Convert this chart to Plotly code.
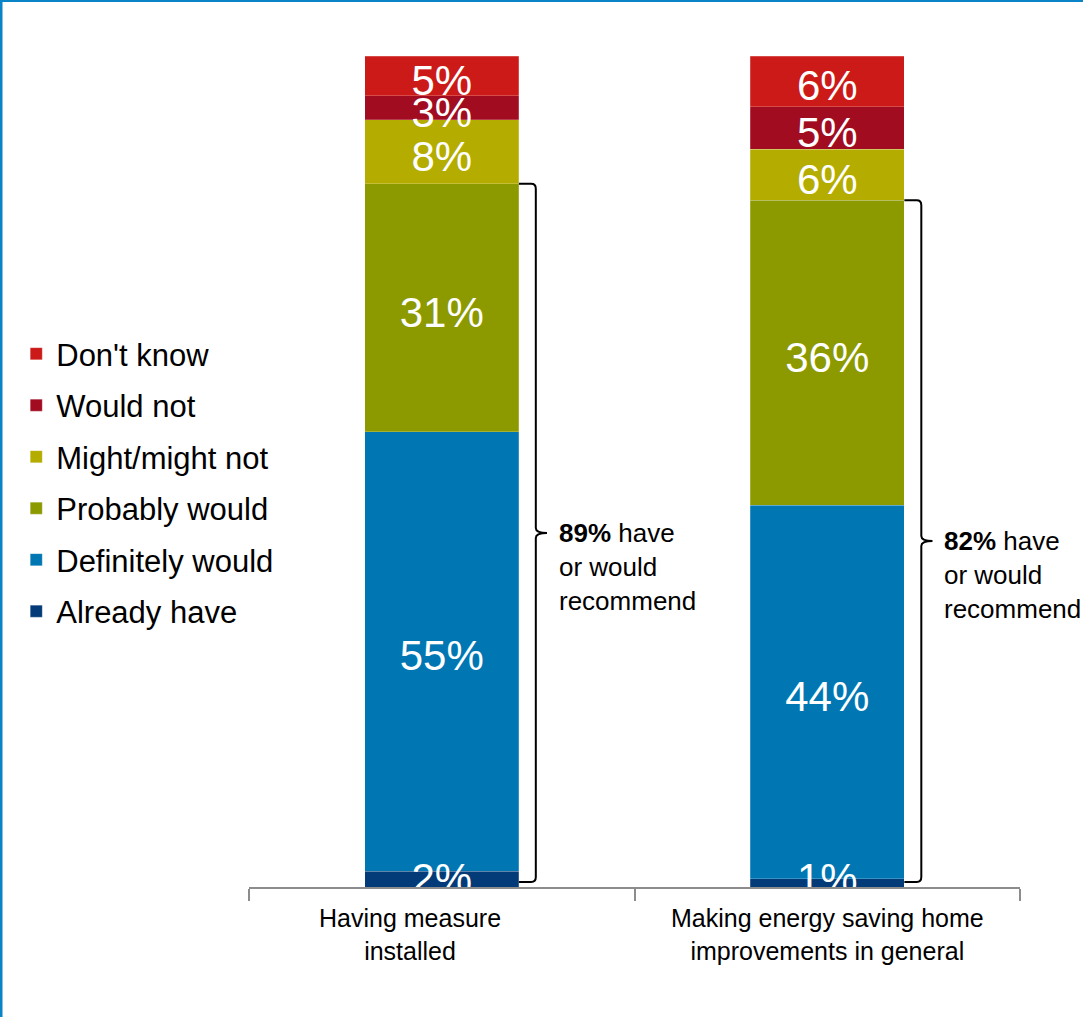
import plotly.graph_objects as go

categories = ["Having measure<br>installed", "Making energy saving home<br>improvements in general"]
series_names = ["Already have", "Definitely would", "Probably would", "Might/might not", "Would not", "Don't know"]
already_have = [2, 1]
definitely_would = [55, 44]
probably_would = [31, 36]
might_might_not = [8, 6]
would_not = [3, 5]
dont_know = [5, 6]
recommend_totals = ["89%", "82%"]

series_values = [already_have, definitely_would, probably_would, might_might_not, would_not, dont_know]
colors = ["#033A78", "#0077B3", "#8C9A00", "#B5AC00", "#A10C20", "#CB1A18"]
FONT = "Liberation Sans, Arial, sans-serif"
LABEL_SIZE = 42
PLOT_PX = 831  # pixel height of the value axis

fig = go.Figure()
n = len(series_names)
for k, (name, vals, col) in enumerate(zip(series_names, series_values, colors)):
    fig.add_trace(go.Bar(
        x=categories, y=vals, name=name, legendgroup=name, legendrank=n - k,
        marker=dict(color=col, line=dict(color="rgba(255,255,255,0.35)", width=0.6)),
        hoverinfo="skip",
    ))

# Normalised label positions (percent of each bar), drawn above all bars
totals = [sum(s[i] for s in series_values) for i in range(len(categories))]
px_to_units = 100 / PLOT_PX
text_offset = 0.2 * LABEL_SIZE * px_to_units   # optical centring of text glyphs
min_center = 0.3 * LABEL_SIZE * px_to_units    # keep labels just above the axis
lab_x, lab_y, lab_t = [], [], []
for i in range(len(categories)):
    cum = 0.0
    for s in series_values:
        v = s[i] / totals[i] * 100
        lab_x.append(categories[i])
        lab_y.append(max(cum + v / 2, min_center) - text_offset)
        lab_t.append(f"{s[i]}%")
        cum += v
fig.add_trace(go.Scatter(
    x=lab_x, y=lab_y, text=lab_t, mode="text", textposition="middle center",
    textfont=dict(color="white", size=LABEL_SIZE, family=FONT),
    showlegend=False, hoverinfo="skip", cliponaxis=True,
))

# Brackets spanning Already have + Definitely + Probably
shapes = []
annotations = []
for i in range(len(categories)):
    top = (already_have[i] + definitely_would[i] + probably_would[i]) / totals[i] * 100
    bot = 0.6
    mid = (top + bot) / 2
    x0 = i + 0.2
    xv = i + 0.244
    xt = i + 0.273
    dx = 0.012
    dy = 0.6
    path = (f"M {x0},{top} L {xv-dx},{top} Q {xv},{top} {xv},{top-dy} "
            f"L {xv},{mid+dy} Q {xv},{mid} {xt},{mid} Q {xv},{mid} {xv},{mid-dy} "
            f"L {xv},{bot+dy} Q {xv},{bot} {xv-dx},{bot} L {x0},{bot}")
    shapes.append(dict(type="path", path=path, xref="x", yref="y",
                       line=dict(color="black", width=2)))
    annotations.append(dict(
        x=i + 0.298, y=mid, xref="x", yref="y",
        text=f"<b>{recommend_totals[i]}</b> have<br>or would<br>recommend",
        showarrow=False, xanchor="left", yanchor="top", align="left", yshift=17,
        font=dict(size=26, color="black", family=FONT),
    ))

# Category labels
label_shift = [-32, 0]
for i, cat in enumerate(categories):
    annotations.append(dict(
        x=i, y=0, xref="x", yref="y", text=cat, showarrow=False,
        xanchor="center", yanchor="top", align="center", xshift=label_shift[i], yshift=-15,
        font=dict(size=25, color="black", family=FONT),
    ))

# Blue frame (top and left)
shapes.append(dict(type="line", xref="paper", yref="paper", x0=0, x1=1, y0=1, y1=1,
                   line=dict(color="#0A84C6", width=4)))
shapes.append(dict(type="line", xref="paper", yref="paper", x0=0, x1=0, y0=0, y1=1,
                   line=dict(color="#0A84C6", width=5)))

W, H = 1083, 1017
fig.update_layout(
    width=W, height=H,
    margin=dict(l=0, r=0, t=0, b=0),
    paper_bgcolor="white", plot_bgcolor="white",
    barmode="stack", barnorm="percent", bargap=0.6,
    font=dict(family=FONT, color="black"),
    xaxis=dict(
        domain=[249 / W, 1020 / W], range=[-0.5, 1.5],
        showline=True, linecolor="#8C8C8C", linewidth=1.5,
        ticks="outside", tickson="boundaries", ticklen=12, tickcolor="#8C8C8C", tickwidth=1.5,
        showticklabels=False,
        showgrid=False, zeroline=False, fixedrange=True,
    ),
    yaxis=dict(
        domain=[(H - 887) / H, (H - 56) / H],
        range=[0, 100], visible=False, showgrid=False, zeroline=False,
    ),
    legend=dict(
        x=0.015, y=(H - 327) / H, xanchor="left", yanchor="top",
        traceorder="grouped", tracegroupgap=8.2,
        font=dict(size=31, color="black", family=FONT),
        itemwidth=30, bgcolor="rgba(0,0,0,0)",
    ),
    shapes=shapes,
    annotations=annotations,
    showlegend=True,
)

fig.write_html("out.html")
